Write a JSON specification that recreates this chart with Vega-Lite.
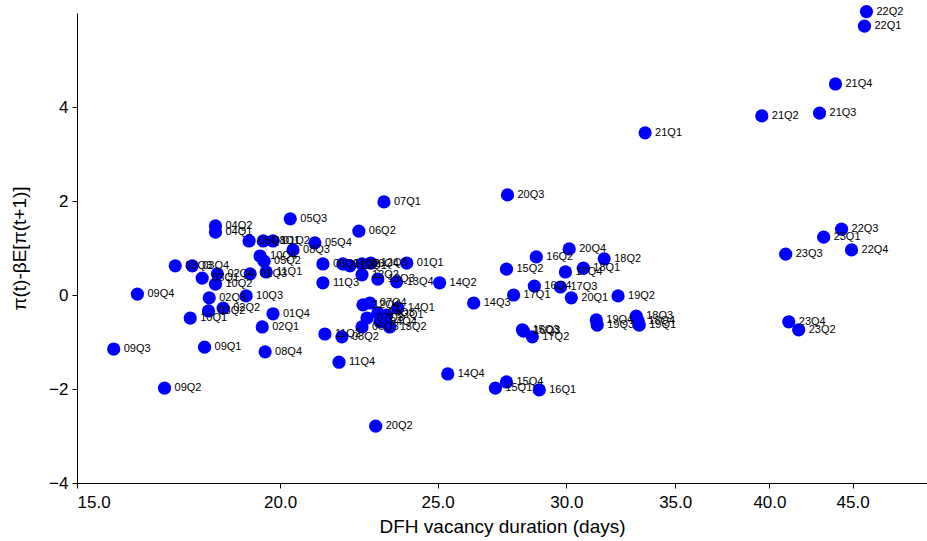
{
  "$schema": "https://vega.github.io/schema/vega-lite/v6.json",
  "width": 850,
  "height": 470,
  "autosize": {"type": "none"},
  "padding": {"left": 77, "top": 13, "right": 0, "bottom": 58},
  "config": {"view": {"stroke": null}, "font": "Liberation Sans"},
  "data": {"values": [
    {"q": "22Q2", "x": 45.89, "y": 6.03},
    {"q": "22Q1", "x": 45.76, "y": 5.72},
    {"q": "21Q4", "x": 43.92, "y": 4.49},
    {"q": "21Q1", "x": 33.54, "y": 3.45},
    {"q": "21Q2", "x": 39.57, "y": 3.81},
    {"q": "21Q3", "x": 42.94, "y": 3.87},
    {"q": "22Q3", "x": 44.30, "y": 1.40},
    {"q": "23Q1", "x": 43.19, "y": 1.23},
    {"q": "22Q4", "x": 44.93, "y": 0.96},
    {"q": "23Q3", "x": 40.93, "y": 0.87},
    {"q": "23Q4", "x": 41.11, "y": -0.57},
    {"q": "23Q2", "x": 41.69, "y": -0.74},
    {"q": "20Q3", "x": 27.60, "y": 2.13},
    {"q": "20Q4", "x": 30.12, "y": 0.98},
    {"q": "16Q2", "x": 28.75, "y": 0.81},
    {"q": "18Q2", "x": 31.65, "y": 0.77},
    {"q": "18Q1", "x": 30.73, "y": 0.57},
    {"q": "15Q2", "x": 27.56, "y": 0.55},
    {"q": "17Q4", "x": 29.96, "y": 0.49},
    {"q": "16Q4", "x": 28.67, "y": 0.19},
    {"q": "17Q3", "x": 29.75, "y": 0.17},
    {"q": "17Q1", "x": 27.84, "y": 0.00},
    {"q": "20Q1", "x": 30.21, "y": -0.06},
    {"q": "19Q2", "x": 32.28, "y": -0.02},
    {"q": "14Q3", "x": 26.31, "y": -0.17},
    {"q": "14Q2", "x": 25.07, "y": 0.26},
    {"q": "19Q4", "x": 31.30, "y": -0.53},
    {"q": "19Q3", "x": 31.34, "y": -0.64},
    {"q": "18Q3", "x": 33.12, "y": -0.45},
    {"q": "18Q4", "x": 33.21, "y": -0.55},
    {"q": "19Q1", "x": 33.26, "y": -0.64},
    {"q": "15Q3", "x": 28.19, "y": -0.74},
    {"q": "16Q3", "x": 28.23, "y": -0.77},
    {"q": "17Q2", "x": 28.59, "y": -0.89},
    {"q": "14Q4", "x": 25.36, "y": -1.68},
    {"q": "15Q4", "x": 27.56, "y": -1.85},
    {"q": "15Q1", "x": 27.13, "y": -1.98},
    {"q": "16Q1", "x": 28.87, "y": -2.02},
    {"q": "20Q2", "x": 22.90, "y": -2.79},
    {"q": "04Q2", "x": 18.25, "y": 1.47},
    {"q": "04Q1", "x": 18.25, "y": 1.34},
    {"q": "05Q3", "x": 20.29, "y": 1.62},
    {"q": "05Q1", "x": 19.14, "y": 1.15},
    {"q": "08Q1", "x": 19.53, "y": 1.15},
    {"q": "01Q2", "x": 19.80, "y": 1.15},
    {"q": "08Q3", "x": 20.37, "y": 0.96},
    {"q": "10Q4", "x": 19.44, "y": 0.83},
    {"q": "05Q2", "x": 19.55, "y": 0.72},
    {"q": "03Q3", "x": 17.24, "y": 0.62},
    {"q": "03Q4", "x": 17.66, "y": 0.62},
    {"q": "02Q4", "x": 18.30, "y": 0.45},
    {"q": "01Q3", "x": 19.17, "y": 0.45},
    {"q": "11Q1", "x": 19.61, "y": 0.49},
    {"q": "03Q1", "x": 17.91, "y": 0.36},
    {"q": "10Q2", "x": 18.25, "y": 0.23},
    {"q": "10Q3", "x": 19.06, "y": -0.02},
    {"q": "02Q3", "x": 18.09, "y": -0.06},
    {"q": "03Q2", "x": 18.07, "y": -0.34},
    {"q": "02Q2", "x": 18.45, "y": -0.28},
    {"q": "10Q1", "x": 17.61, "y": -0.49},
    {"q": "01Q4", "x": 19.80, "y": -0.40},
    {"q": "02Q1", "x": 19.50, "y": -0.68},
    {"q": "09Q4", "x": 16.34, "y": 0.02},
    {"q": "09Q1", "x": 17.97, "y": -1.11},
    {"q": "09Q3", "x": 15.80, "y": -1.15},
    {"q": "09Q2", "x": 16.98, "y": -1.98},
    {"q": "08Q4", "x": 19.58, "y": -1.21},
    {"q": "05Q4", "x": 21.01, "y": 1.11},
    {"q": "06Q2", "x": 22.36, "y": 1.36},
    {"q": "07Q1", "x": 23.17, "y": 1.98},
    {"q": "11Q3", "x": 21.25, "y": 0.26},
    {"q": "11Q4", "x": 21.74, "y": -1.43},
    {"q": "01Q1", "x": 23.93, "y": 0.68},
    {"q": "06Q1", "x": 21.25, "y": 0.66},
    {"q": "07Q2", "x": 21.86, "y": 0.66},
    {"q": "12Q1", "x": 22.08, "y": 0.62},
    {"q": "06Q4", "x": 22.46, "y": 0.66},
    {"q": "12Q3", "x": 22.74, "y": 0.68},
    {"q": "12Q2", "x": 22.46, "y": 0.43},
    {"q": "13Q3", "x": 22.97, "y": 0.34},
    {"q": "13Q4", "x": 23.59, "y": 0.28},
    {"q": "12Q4", "x": 22.49, "y": -0.21},
    {"q": "07Q4", "x": 22.71, "y": -0.17},
    {"q": "14Q1", "x": 23.63, "y": -0.28},
    {"q": "07Q3", "x": 22.62, "y": -0.49},
    {"q": "04Q3", "x": 22.97, "y": -0.38},
    {"q": "13Q1", "x": 23.26, "y": -0.43},
    {"q": "04Q4", "x": 23.04, "y": -0.57},
    {"q": "06Q3", "x": 22.46, "y": -0.68},
    {"q": "13Q2", "x": 23.36, "y": -0.68},
    {"q": "11Q2", "x": 21.31, "y": -0.83},
    {"q": "08Q2", "x": 21.83, "y": -0.89}
  ]},
  "encoding": {
    "x": {
      "field": "x", "type": "quantitative",
      "scale": {"type": "log", "domain": [15, 50], "nice": false},
      "axis": {
        "title": "DFH vacancy duration (days)",
        "values": [15, 20, 25, 30, 35, 40, 45],
        "format": ".1f",
        "grid": false,
        "domainColor": "#000000", "tickColor": "#000000",
        "labelColor": "#000000", "titleColor": "#000000",
        "labelFontSize": 17, "titleFontSize": 19, "titleFontWeight": "normal",
        "labelFont": "Liberation Sans", "titleFont": "Liberation Sans",
        "tickSize": 5, "labelPadding": 6, "titlePadding": 7
      }
    },
    "y": {
      "field": "y", "type": "quantitative",
      "scale": {"domain": [-4, 6], "nice": false},
      "axis": {
        "title": "π(t)-βE[π(t+1)]",
        "values": [-4, -2, 0, 2, 4],
        "grid": false,
        "domainColor": "#000000", "tickColor": "#000000",
        "labelColor": "#000000", "titleColor": "#000000",
        "labelFontSize": 17, "titleFontSize": 19, "titleFontWeight": "normal",
        "labelFont": "Liberation Sans", "titleFont": "Liberation Sans",
        "tickSize": 5, "labelPadding": 4, "titlePadding": 19
      }
    }
  },
  "layer": [
    {"mark": {"type": "circle", "color": "#0000ff", "opacity": 1, "size": 175}},
    {"mark": {"type": "text", "align": "left", "baseline": "middle", "dx": 10, "fontSize": 11, "font": "Liberation Sans", "color": "#000000"},
     "encoding": {"text": {"field": "q"}}}
  ]
}
